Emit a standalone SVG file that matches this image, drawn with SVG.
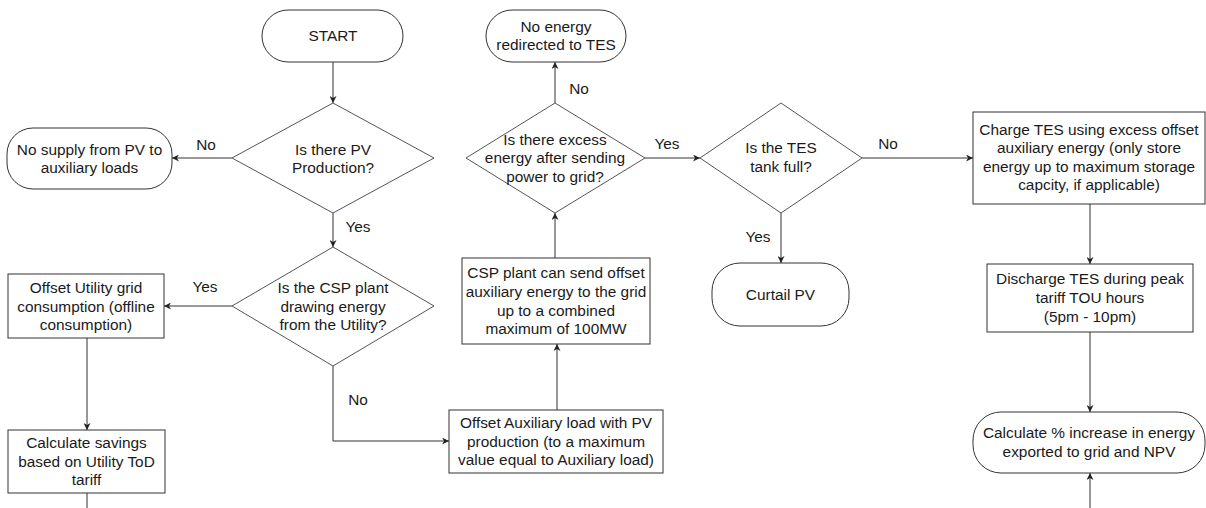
<svg xmlns="http://www.w3.org/2000/svg" width="1206" height="508" viewBox="0 0 1206 508">
<style>
.n{fill:#fff;stroke:#333;stroke-width:1}
.d{fill:#fff;stroke:#555;stroke-width:1}
text{font-family:"Liberation Sans",Arial,sans-serif;font-size:15.4px;fill:#1a1a1a;text-anchor:middle}
.c{fill:none;stroke:#333;stroke-width:1}
</style>
<defs>
<marker id="ah" viewBox="0 0 10 10" refX="10" refY="5" markerWidth="7" markerHeight="7" orient="auto" markerUnits="userSpaceOnUse">
<path d="M0,0 L10,5 L0,10 L3,5 z" fill="#222"/>
</marker>
</defs>
<rect width="1206" height="508" fill="#fff"/>
<g id="connectors">
<path class="c" d="M333,62 V103" marker-end="url(#ah)"/>
<path class="c" d="M232,158 H172" marker-end="url(#ah)"/>
<path class="c" d="M333,213 V247" marker-end="url(#ah)"/>
<path class="c" d="M232,306 H164" marker-end="url(#ah)"/>
<path class="c" d="M87,338 V430" marker-end="url(#ah)"/>
<path class="c" d="M87,493 V508"/>
<path class="c" d="M333,366 V441 H449" marker-end="url(#ah)"/>
<path class="c" d="M557,410 V344" marker-end="url(#ah)"/>
<path class="c" d="M555,258 V213" marker-end="url(#ah)"/>
<path class="c" d="M555,103 V62" marker-end="url(#ah)"/>
<path class="c" d="M645,158 H700" marker-end="url(#ah)"/>
<path class="c" d="M781,213 V263" marker-end="url(#ah)"/>
<path class="c" d="M862,158 H973" marker-end="url(#ah)"/>
<path class="c" d="M1090,204 V264" marker-end="url(#ah)"/>
<path class="c" d="M1090,332 V412" marker-end="url(#ah)"/>
<path class="c" d="M1090,508 V473" marker-end="url(#ah)"/>
<text x="206" y="150">No</text>
<text x="358" y="232">Yes</text>
<text x="205" y="292">Yes</text>
<text x="358" y="405">No</text>
<text x="579" y="94">No</text>
<text x="667" y="149">Yes</text>
<text x="758" y="242">Yes</text>
<text x="888" y="149">No</text>
</g>
<g id="start">
<rect class="n" x="262" y="10" width="141" height="52" rx="26"/>
<text x="333" y="41">START</text>
</g>
<g id="d1">
<polygon class="d" points="333,103 434,158 333,213 232,158"/>
<text x="333" y="155">Is there PV</text>
<text x="333" y="173">Production?</text>
</g>
<g id="nosupply">
<rect class="n" x="7" y="128" width="165" height="61" rx="26"/>
<text x="89.5" y="155">No supply from PV to</text>
<text x="89.5" y="173">auxiliary loads</text>
</g>
<g id="d2">
<polygon class="d" points="333,247 434,306 333,366 232,306"/>
<text x="333" y="293">Is the CSP plant</text>
<text x="333" y="312">drawing energy</text>
<text x="333" y="330">from the Utility?</text>
</g>
<g id="offsetutility">
<rect class="n" x="8" y="274" width="156" height="64"/>
<text x="86" y="293">Offset Utility grid</text>
<text x="86" y="312">consumption (offline</text>
<text x="86" y="330">consumption)</text>
</g>
<g id="calcsavings">
<rect class="n" x="8" y="430" width="157" height="63"/>
<text x="86.5" y="448">Calculate savings</text>
<text x="86.5" y="467">based on Utility ToD</text>
<text x="86.5" y="485">tariff</text>
</g>
<g id="offsetaux">
<rect class="n" x="449" y="410" width="214" height="63"/>
<text x="556" y="428">Offset Auxiliary load with PV</text>
<text x="556" y="447">production (to a maximum</text>
<text x="556" y="465">value equal to Auxiliary load)</text>
</g>
<g id="csp">
<rect class="n" x="462" y="258" width="188" height="86"/>
<text x="556" y="278">CSP plant can send offset</text>
<text x="556" y="297">auxiliary energy to the grid</text>
<text x="556" y="316">up to a combined</text>
<text x="556" y="334">maximum of 100MW</text>
</g>
<g id="d3">
<polygon class="d" points="555,103 645,158 555,213 466,158"/>
<text x="555" y="145">Is there excess</text>
<text x="555" y="163">energy after sending</text>
<text x="555" y="182">power to grid?</text>
</g>
<g id="noenergy">
<rect class="n" x="486" y="10" width="140" height="52" rx="26"/>
<text x="556" y="32">No energy</text>
<text x="556" y="50">redirected to TES</text>
</g>
<g id="d4">
<polygon class="d" points="781,103 862,158 781,213 700,158"/>
<text x="781" y="153">Is the TES</text>
<text x="781" y="172">tank full?</text>
</g>
<g id="curtail">
<rect class="n" x="712" y="263" width="137" height="63" rx="28"/>
<text x="780.5" y="300">Curtail PV</text>
</g>
<g id="charge">
<rect class="n" x="973" y="112" width="232" height="92"/>
<text x="1089" y="135">Charge TES using excess offset</text>
<text x="1089" y="153">auxiliary energy (only store</text>
<text x="1089" y="172">energy up to maximum storage</text>
<text x="1089" y="190">capcity, if applicable)</text>
</g>
<g id="discharge">
<rect class="n" x="987" y="264" width="206" height="68"/>
<text x="1090" y="284">Discharge TES during peak</text>
<text x="1090" y="303">tariff TOU hours</text>
<text x="1090" y="322">(5pm - 10pm)</text>
</g>
<g id="calcpct">
<rect class="n" x="973" y="412" width="232" height="61" rx="28"/>
<text x="1089" y="438">Calculate % increase in energy</text>
<text x="1089" y="457">exported to grid and NPV</text>
</g>
</svg>
